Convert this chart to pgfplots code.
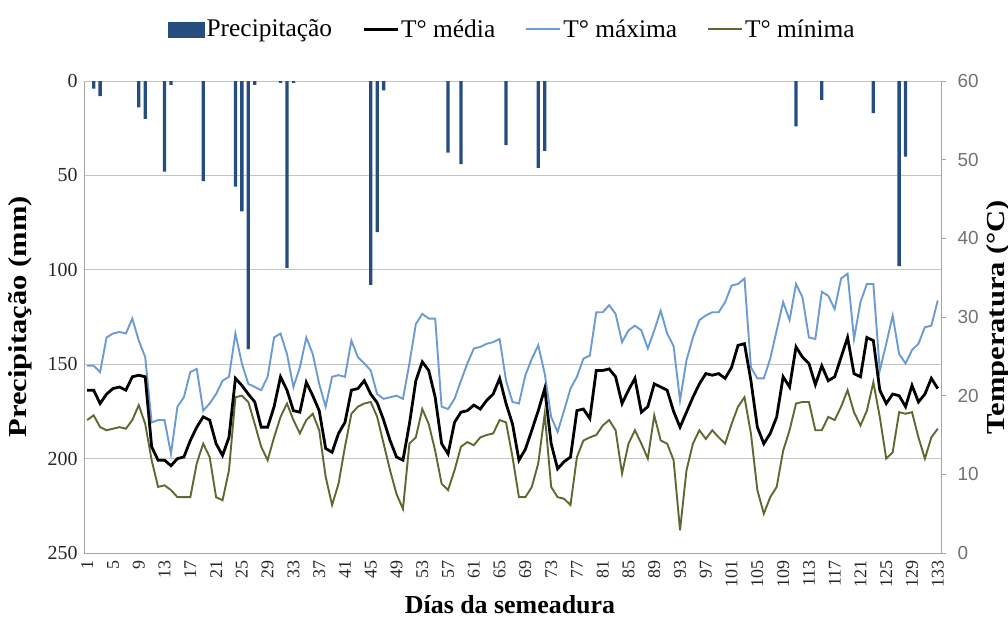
\documentclass[border=0pt]{standalone}
\usepackage{fontspec}
\setmainfont{Liberation Serif}
\newfontfamily\sansf{Liberation Sans}
\newfontfamily\lblfont[FakeStretch=1.18]{Liberation Serif}
\usepackage{pgfplots}
\usepackage{pgfplotstable}
\pgfplotsset{compat=1.18}
\definecolor{barc}{HTML}{264D80}
\definecolor{maxc}{HTML}{6B9BD2}
\definecolor{minc}{HTML}{5C6A30}
\definecolor{gridc}{HTML}{C4C4C4}
\definecolor{axc}{HTML}{A6A6A6}
\pgfplotsset{
  barleg/.style={legend image code/.code={\fill[barc] (0bp,-8bp) rectangle (36bp,7bp);}},
  lineleg/.style={legend image code/.code={\draw[##1] (0bp,0bp) -- (34bp,0bp);}},
}
\pgfplotstableread{
day tmax tmed tmin
1 23.8 20.7 16.9
2 23.8 20.7 17.5
3 23.0 19.0 16.0
4 27.4 20.2 15.6
5 27.9 20.9 15.8
6 28.1 21.1 16.0
7 27.9 20.7 15.8
8 29.8 22.4 16.9
9 27.0 22.6 18.8
10 24.9 22.4 16.4
11 16.6 13.5 11.8
12 16.9 11.8 8.4
13 16.9 11.8 8.6
14 12.6 11.1 8.0
15 18.6 12.0 7.1
16 19.8 12.2 7.1
17 23.0 14.3 7.1
18 23.4 16.0 11.4
19 18.1 17.3 13.9
20 19.0 16.9 12.2
21 20.2 13.9 7.1
22 21.9 12.4 6.7
23 22.4 14.7 10.5
24 27.9 22.2 19.8
25 24.1 21.3 20.0
26 21.5 20.2 19.2
27 21.1 19.2 16.4
28 20.7 16.0 13.5
29 22.4 16.0 11.8
30 27.4 18.6 14.7
31 27.9 22.4 17.3
32 25.3 20.7 19.0
33 21.1 18.1 16.9
34 23.6 17.9 15.2
35 27.4 21.7 16.9
36 25.3 20.0 17.7
37 21.5 18.1 15.6
38 18.6 13.3 9.7
39 22.4 12.8 6.1
40 22.6 15.2 8.8
41 22.4 16.6 13.5
42 27.0 20.7 17.7
43 24.9 20.9 18.6
44 24.1 21.9 19.0
45 23.2 20.2 19.2
46 20.2 19.1 17.3
47 19.6 16.9 13.9
48 19.8 14.3 10.5
49 20.0 12.2 7.5
50 19.6 11.8 5.6
51 24.1 16.4 13.9
52 29.1 21.9 14.7
53 30.4 24.3 18.3
54 29.8 23.2 16.4
55 29.8 19.8 13.0
56 18.6 13.9 8.8
57 18.3 12.6 8.0
58 19.6 16.6 10.5
59 21.9 17.9 13.5
60 24.1 18.1 14.1
61 26.0 18.8 13.7
62 26.2 18.3 14.7
63 26.6 19.4 15.0
64 26.8 20.2 15.2
65 27.2 22.2 16.9
66 21.9 19.0 16.6
67 19.2 16.4 12.2
68 19.0 11.8 7.1
69 22.6 13.2 7.1
70 24.7 15.6 8.4
71 26.4 18.1 11.4
72 22.8 20.9 17.7
73 17.3 13.9 8.4
74 15.4 10.7 7.1
75 18.1 11.6 6.9
76 20.9 12.2 6.1
77 22.4 18.1 12.2
78 24.7 18.3 14.3
79 25.1 17.1 14.7
80 30.6 23.2 15.0
81 30.6 23.2 16.2
82 31.5 23.4 16.9
83 30.4 22.4 15.6
84 26.8 19.0 10.1
85 28.3 20.7 13.9
86 28.9 22.2 15.6
87 28.3 17.9 13.9
88 26.0 18.6 12.0
89 28.3 21.5 17.5
90 30.8 21.1 14.3
91 27.9 20.7 13.9
92 26.3 18.0 11.8
93 19.4 16.0 2.9
94 24.5 17.9 10.5
95 27.4 19.8 13.9
96 29.6 21.5 15.6
97 30.2 22.8 14.5
98 30.6 22.6 15.6
99 30.6 22.8 14.7
100 31.9 22.2 13.9
101 34.0 23.6 16.4
102 34.2 26.4 18.6
103 34.9 26.6 19.8
104 23.6 21.9 15.2
105 22.2 16.0 8.0
106 22.2 13.9 5.0
107 24.7 15.2 7.1
108 28.3 17.3 8.4
109 31.9 22.4 13.0
110 29.6 21.1 15.6
111 34.2 26.2 19.0
112 32.5 24.9 19.2
113 27.4 24.1 19.2
114 27.2 21.4 15.6
115 33.2 23.8 15.6
116 32.7 21.9 17.3
117 31.0 22.4 16.9
118 34.9 24.9 18.6
119 35.5 27.4 20.7
120 27.2 22.8 17.9
121 31.9 22.4 16.2
122 34.2 27.4 18.1
123 34.2 27.0 21.7
124 23.2 20.7 17.3
125 26.6 19.0 12.0
126 30.2 20.2 12.8
127 25.3 20.0 17.9
128 24.1 18.6 17.7
129 25.8 21.3 17.9
130 26.6 19.2 14.7
131 28.7 20.2 12.0
132 28.9 22.2 14.7
133 32.1 20.9 15.8
}\temps
\pgfplotstableread{
day p
2 4
3 8
9 14
10 20
13 48
14 2
19 53
24 56
25 69
26 142
27 2
31 1
32 99
33 1
45 108
46 80
47 5
57 38
59 44
66 34
71 46
72 37
111 24
115 10
123 17
127 98
128 40
}\prec
\begin{document}
\begin{tikzpicture}
\begin{axis}[
  scale only axis, width=857bp, height=472bp,
  xmin=0.5, xmax=133.5,
  ymin=0, ymax=250, y dir=reverse,
  axis x line=none,
  axis y line*=left,
  axis line style={draw=axc, line width=0.9bp},
  ytick={0,50,...,250},
  ymajorgrids, grid style={draw=gridc, line width=0.9bp},
  major tick length=0pt,
  /pgf/number format/assume math mode=true,
  yticklabel style={font=\fontsize{20}{20}\selectfont, text=black!85, xshift=-3bp},
  ybar, bar width=3.3bp,
]
\addplot[fill=barc, draw=none] table[x=day,y=p]{\prec};
\end{axis}
\begin{axis}[
  scale only axis, width=857bp, height=472bp,
  xmin=0.5, xmax=133.5, ymin=0, ymax=60,
  axis y line*=right, axis x line*=bottom,
  axis line style={draw=axc, line width=0.9bp, -},
  xtick={1,5,...,133},
  x tick style={draw=none},
  xticklabel style={rotate=90, anchor=east, font=\fontsize{18}{18}\selectfont, text=black!85, inner sep=2bp},
  ytick={0,10,...,60},
  y tick style={draw=axc, line width=0.9bp},
  tick align=outside, major tick length=5bp,
  /pgf/number format/assume math mode=true,
  yticklabel style={font=\sansf\fontsize{19}{19}\selectfont, text=black!55, xshift=8bp},
  legend style={at={(0.5,1.11)}, anchor=center, draw=none, fill=none,
    legend columns=4, font=\fontsize{25.5}{25.5}\selectfont,
    /tikz/every odd column/.style={column sep=0bp},
    /tikz/every even column/.style={column sep=28bp},
    nodes={inner sep=2bp}},
]
\addlegendimage{barleg}
\addlegendimage{lineleg, black, line width=3bp}
\addlegendimage{lineleg, maxc, line width=2bp}
\addlegendimage{lineleg, minc, line width=2bp}
\addplot[maxc, line width=1.9bp, forget plot] table[x=day,y=tmax]{\temps};
\addplot[minc, line width=1.9bp, forget plot] table[x=day,y=tmin]{\temps};
\addplot[black, line width=2.8bp, forget plot] table[x=day,y=tmed]{\temps};
\legend{Precipitação, T° média, T° máxima, T° mínima}
\end{axis}
\node[rotate=90, font=\lblfont\bfseries\fontsize{26}{26}\selectfont] at (-64bp,236bp) {Precipitação (mm)};
\node[rotate=90, font=\lblfont\bfseries\fontsize{26}{26}\selectfont] at (914bp,236bp) {Temperatura (°C)};
\node[font=\bfseries\fontsize{26}{26}\selectfont] at (426bp,-52bp) {Días da semeadura};
\pgfresetboundingbox
\path[use as bounding box] (-84bp,-71bp) rectangle (924bp,553bp);
\end{tikzpicture}
\end{document}
